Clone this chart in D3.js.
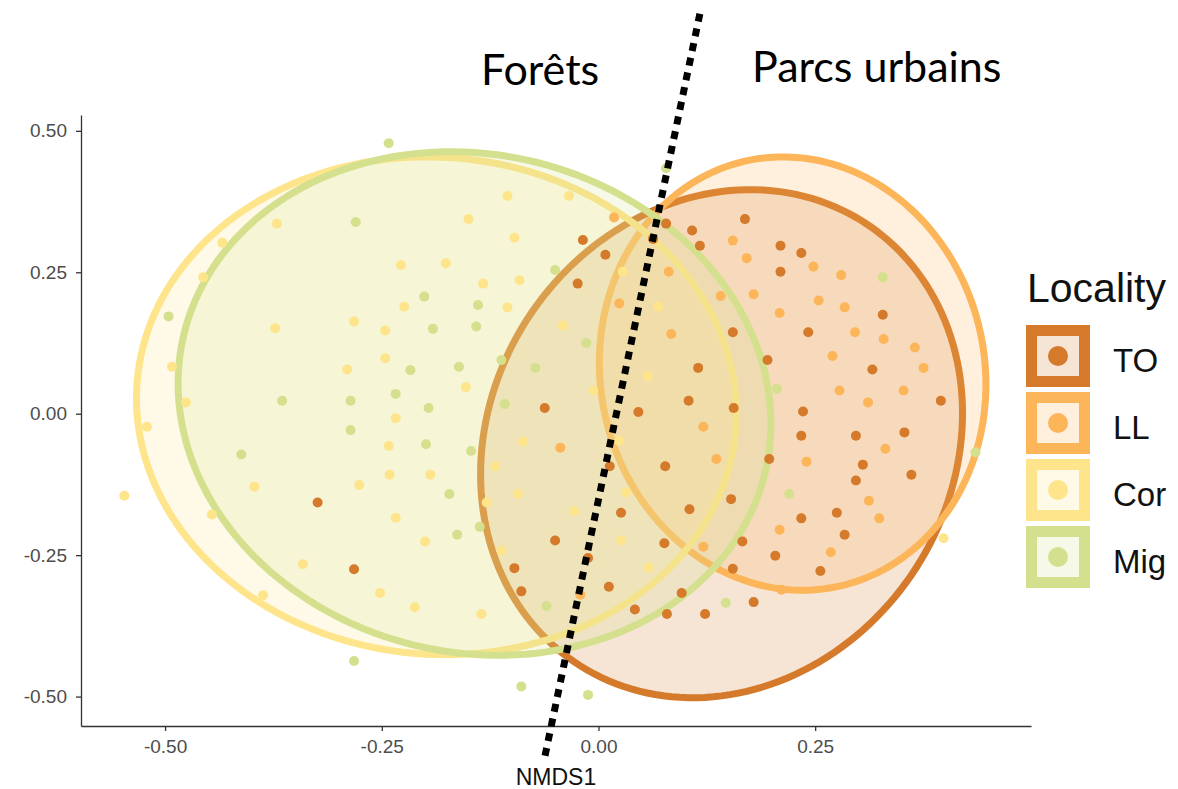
<!DOCTYPE html>
<html lang="en">
<head>
<meta charset="UTF-8">
<title>NMDS by locality</title>
<script src="https://d3js.org/d3.v7.min.js"></script>
<style>
  body { margin: 0; background: #fff; }
  svg { display: block; }
  .axis text { font-family: "Liberation Sans", Arial, sans-serif; }
</style>
</head>
<body>
<div id="chart"></div>
<script>
// localities, in legend order
const localities = ["TO", "LL", "Cor", "Mig"];

// NMDS scores, [NMDS1, NMDS2]
const ptsTO = [
  [-0.324, -0.157], [-0.282, -0.275], [-0.018, 0.307], [0.078, 0.336], [0.108, 0.324],
  [0.169, 0.344], [0.117, 0.297], [0.063, 0.309], [0.008, 0.281], [-0.024, 0.230],
  [0.155, 0.144], [0.115, 0.081], [-0.062, 0.010], [0.104, 0.023], [0.046, 0.003],
  [0.156, 0.010], [0.210, 0.297], [0.234, 0.284], [0.210, 0.251], [0.328, 0.175],
  [0.242, 0.144], [0.195, 0.095], [0.316, 0.078], [0.395, 0.023], [0.236, 0.004],
  [0.234, -0.039], [0.297, -0.039], [0.353, -0.033], [0.197, -0.080], [0.305, -0.090],
  [0.361, -0.108], [0.297, -0.118], [0.234, -0.185], [0.275, -0.175], [0.284, -0.214],
  [0.166, -0.226], [0.204, -0.251], [0.256, -0.278], [0.179, -0.333], [0.026, -0.175],
  [-0.050, -0.224], [-0.012, -0.255], [-0.097, -0.273], [-0.089, -0.314], [0.012, -0.306],
  [0.042, -0.346], [0.077, -0.093], [0.105, -0.169], [0.153, -0.151], [0.013, -0.093],
  [0.076, -0.229], [0.155, -0.274], [0.096, -0.317], [0.079, -0.354], [0.123, -0.354]
];
const ptsLL = [
  [0.018, 0.347], [0.155, 0.306], [0.171, 0.275], [0.081, 0.251], [0.024, 0.195],
  [0.141, 0.208], [0.084, 0.141], [0.121, -0.023], [0.248, 0.260], [0.280, 0.245],
  [0.179, 0.211], [0.254, 0.200], [0.284, 0.188], [0.209, 0.178], [0.296, 0.144],
  [0.329, 0.132], [0.365, 0.117], [0.270, 0.102], [0.375, 0.081], [0.278, 0.041],
  [0.352, 0.041], [0.311, 0.020], [0.331, -0.062], [0.240, -0.085], [0.312, -0.154],
  [0.324, -0.185], [0.209, -0.205], [0.268, -0.245], [0.211, -0.311], [-0.044, -0.060],
  [0.136, -0.080], [0.121, -0.235], [-0.021, -0.320]
];
const ptsCor = [
  [-0.371, 0.336], [-0.434, 0.302], [-0.228, 0.263], [-0.456, 0.241], [-0.224, 0.189],
  [-0.282, 0.163], [-0.373, 0.151], [-0.246, 0.147], [-0.246, 0.098], [-0.290, 0.078],
  [-0.492, 0.083], [-0.476, 0.020], [-0.234, -0.008], [-0.521, -0.023], [-0.242, -0.057],
  [-0.241, -0.108], [-0.194, -0.108], [-0.397, -0.129], [-0.276, -0.126], [-0.547, -0.145],
  [-0.446, -0.178], [-0.234, -0.184], [-0.200, -0.226], [-0.341, -0.266], [-0.252, -0.317],
  [-0.387, -0.321], [-0.212, -0.342], [-0.105, 0.385], [-0.034, 0.385], [-0.150, 0.344],
  [-0.097, 0.311], [-0.176, 0.266], [0.028, 0.251], [-0.133, 0.230], [-0.091, 0.236],
  [-0.105, 0.188], [0.069, 0.189], [-0.041, 0.156], [0.057, 0.066], [-0.153, 0.047],
  [-0.006, 0.041], [-0.087, -0.049], [-0.119, -0.093], [-0.093, -0.142], [-0.129, -0.157],
  [-0.028, -0.172], [0.026, -0.224], [-0.112, -0.242], [-0.135, -0.354], [0.024, -0.048],
  [0.032, -0.139], [0.058, -0.272], [0.398, -0.220]
];
const ptsMig = [
  [-0.242, 0.478], [-0.280, 0.339], [-0.201, 0.207], [-0.496, 0.172], [-0.191, 0.150],
  [-0.217, 0.077], [-0.234, 0.035], [-0.365, 0.023], [-0.286, 0.023], [-0.196, 0.010],
  [-0.286, -0.029], [-0.199, -0.054], [-0.412, -0.072], [-0.282, -0.437], [0.078, 0.434],
  [-0.050, 0.254], [-0.139, 0.192], [-0.141, 0.154], [-0.014, 0.125], [-0.112, 0.095],
  [-0.161, 0.083], [-0.073, 0.081], [-0.108, 0.017], [0.328, 0.241], [0.206, 0.044],
  [0.435, -0.068], [0.220, -0.142], [-0.147, -0.066], [-0.172, -0.142], [-0.137, -0.200],
  [-0.163, -0.214], [-0.060, -0.340], [0.147, -0.334], [-0.089, -0.482], [-0.012, -0.497]
];
const pointSets = [ptsTO, ptsLL, ptsCor, ptsMig];

// ellipse for each locality: centre, half extents, correlation
const ellCX = [0.142, 0.224, -0.187, -0.143];
const ellCY = [-0.053, 0.071, 0.014, 0.018];
const ellHX = [0.278, 0.223, 0.346, 0.342];
const ellHY = [0.449, 0.383, 0.440, 0.445];
const ellR  = [0.12, -0.05, -0.03, -0.08];

const xTicks = [-0.5, -0.25, 0, 0.25];
const yTicks = [-0.5, -0.25, 0, 0.25, 0.5];

// dotted divider between the two habitats (ends in NMDS units)
const dividerX = [0.117, -0.062];
const dividerY = [0.707, -0.607];
const habitatLabels = ["Forêts", "Parcs urbains"];

const palette = ["#D47A2A", "#FDB55A", "#FEE48B", "#D4E08D"];

const W = 1178, H = 789;
const margin = {top: 115, right: 147, bottom: 63, left: 81};

const svg = d3.select("#chart").append("svg")
    .attr("width", W)
    .attr("height", H)
    .style("background", "#fff");

const x = d3.scaleLinear().domain([-0.597, 0.499]).range([margin.left, W - margin.right]);
const y = d3.scaleLinear().domain([-0.552, 0.528]).range([H - margin.bottom, margin.top]);

// ellipses, drawn in factor order so later fills tint earlier outlines
const ellLine = d3.line().x(d => x(d[0])).y(d => y(d[1])).curve(d3.curveLinearClosed);
const steps = d3.range(0, 360, 2).map(a => a * Math.PI / 180);

const ellG = svg.append("g");
localities.forEach((loc, i) => {
  const r = ellR[i];
  const pts = steps.map(t => [
    ellCX[i] + ellHX[i] * Math.cos(t),
    ellCY[i] + ellHY[i] * (r * Math.cos(t) + Math.sqrt(1 - r * r) * Math.sin(t))
  ]);
  ellG.append("path")
      .attr("d", ellLine(pts))
      .attr("fill", palette[i])
      .attr("fill-opacity", 0.2)
      .attr("stroke", palette[i])
      .attr("stroke-width", 7);
});

// points
const ptG = svg.append("g");
pointSets.forEach((set, i) => {
  ptG.selectAll(null)
    .data(set)
    .join("circle")
      .attr("cx", d => x(d[0]))
      .attr("cy", d => y(d[1]))
      .attr("r", 5)
      .attr("fill", palette[i]);
});

// axes
const fmt = d => d.toFixed(2);
const xAxis = svg.append("g")
    .attr("class", "axis")
    .attr("transform", `translate(0,${H - margin.bottom})`)
    .call(d3.axisBottom(x).tickValues(xTicks).tickFormat(fmt).tickSize(5).tickSizeOuter(0).tickPadding(9));
const yAxis = svg.append("g")
    .attr("class", "axis")
    .attr("transform", `translate(${margin.left},0)`)
    .call(d3.axisLeft(y).tickValues(yTicks).tickFormat(fmt).tickSize(5).tickSizeOuter(0).tickPadding(9));

[xAxis, yAxis].forEach(g => {
  g.select(".domain").attr("stroke", "#333").attr("stroke-width", 1.3);
  g.selectAll(".tick line").attr("stroke", "#333").attr("stroke-width", 1.3);
  g.selectAll(".tick text").attr("fill", "#4d4d4d").attr("font-size", 19);
});

svg.append("text")
    .attr("x", (margin.left + W - margin.right) / 2)
    .attr("y", 785)
    .attr("text-anchor", "middle")
    .attr("font-family", "Liberation Sans, Arial, sans-serif")
    .attr("font-size", 23)
    .attr("fill", "#111")
    .text("NMDS1");

// legend
const legend = svg.append("g").attr("transform", "translate(1026,0)");
legend.append("text")
    .attr("x", 1)
    .attr("y", 302)
    .attr("font-family", "Liberation Sans, Arial, sans-serif")
    .attr("font-size", 41)
    .attr("fill", "#111")
    .text("Locality");

localities.forEach((loc, i) => {
  const top = 325 + i * 67;
  legend.append("rect")
      .attr("x", 5.5)
      .attr("y", top + 5.5)
      .attr("width", 53)
      .attr("height", 51)
      .attr("fill", palette[i])
      .attr("fill-opacity", 0.2)
      .attr("stroke", palette[i])
      .attr("stroke-width", 11);
  legend.append("circle")
      .attr("cx", 32)
      .attr("cy", top + 31)
      .attr("r", 10)
      .attr("fill", palette[i]);
  legend.append("text")
      .attr("x", 87)
      .attr("y", top + 47)
      .attr("font-family", "Liberation Sans, Arial, sans-serif")
      .attr("font-size", 33)
      .attr("fill", "#111")
      .text(loc);
});

// habitat divider and labels
svg.append("line")
    .attr("x1", x(dividerX[0]))
    .attr("y1", y(dividerY[0]))
    .attr("x2", x(dividerX[1]))
    .attr("y2", y(dividerY[1]))
    .attr("stroke", "#000")
    .attr("stroke-width", 7)
    .attr("stroke-dasharray", "8,7");

svg.selectAll(".habitat")
  .data(habitatLabels)
  .join("text")
    .attr("class", "habitat")
    .attr("x", (d, i) => i === 0 ? 481 : 752)
    .attr("y", (d, i) => i === 0 ? 85 : 82)
    .attr("font-family", "Lato, 'Open Sans', sans-serif")
    .attr("font-size", 43)
    .attr("fill", "#000")
    .text(d => d);
</script>
</body>
</html>
